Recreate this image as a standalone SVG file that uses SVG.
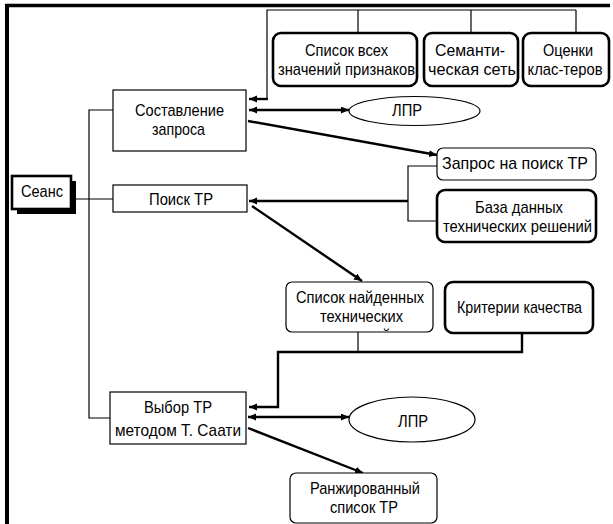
<svg xmlns="http://www.w3.org/2000/svg" width="613" height="524" viewBox="0 0 613 524">
  <style>
    text { font-family: "Liberation Sans", Arial, sans-serif; font-size: 17px; fill: #000; text-anchor: middle; }
    .box { fill: #fff; stroke: #000; stroke-width: 1.2; }
    .bold { fill: #fff; stroke: #000; stroke-width: 2.6; }
    .thin { fill: none; stroke: #000; stroke-width: 1.2; }
    .thick { fill: none; stroke: #000; stroke-width: 2.4; }
    .frame { fill: none; stroke: #000; }
  </style>
  <defs>
    <marker id="arrow" markerUnits="userSpaceOnUse" markerWidth="9" markerHeight="8" refX="8" refY="3.5" orient="auto-start-reverse">
      <path d="M0,0 L8,3.5 L0,7 z" fill="#000"/>
    </marker>
    <clipPath id="clip-found">
      <rect x="286" y="282" width="147" height="50" rx="6"/>
    </clipPath>
  </defs>

  <!-- page frame (top and left edges) -->
  <g id="frame">
    <line class="frame" x1="5" y1="5.5" x2="610" y2="5.5" stroke-width="3.5"/>
    <line class="frame" x1="7" y1="4" x2="7" y2="524" stroke-width="4"/>
  </g>

  <!-- connectors -->
  <g id="connectors">
    <!-- tree from the session node -->
    <path class="thin" d="M113,110 H89 V418 H110"/>
    <line class="thin" x1="76" y1="199" x2="113" y2="199"/>
    <!-- knowledge sources bus -->
    <path class="thin" d="M576,10 H267 V99"/>
    <line class="thin" x1="358" y1="10" x2="358" y2="33"/>
    <line class="thin" x1="471" y1="10" x2="471" y2="33"/>
    <line class="thin" x1="576" y1="10" x2="576" y2="33"/>
    <path class="thick" d="M268,99 H249" marker-end="url(#arrow)"/>
    <!-- query composition -->
    <line class="thick" x1="249" y1="110" x2="349" y2="110" marker-start="url(#arrow)" marker-end="url(#arrow)"/>
    <line class="thick" x1="248" y1="121" x2="437" y2="155" marker-end="url(#arrow)"/>
    <!-- search inputs -->
    <path class="thin" d="M437,166 H408 V221 H437"/>
    <path class="thick" d="M408,201 H249" marker-end="url(#arrow)"/>
    <line class="thick" x1="252" y1="206" x2="362" y2="281" marker-end="url(#arrow)"/>
    <!-- selection inputs -->
    <line class="thin" x1="358" y1="332" x2="358" y2="352"/>
    <path class="thick" d="M522,333 V352 H278 V407 H249" marker-end="url(#arrow)"/>
    <line class="thick" x1="248" y1="417" x2="349" y2="417" marker-start="url(#arrow)" marker-end="url(#arrow)"/>
    <line class="thick" x1="248" y1="428" x2="363" y2="473" marker-end="url(#arrow)"/>
  </g>

  <g id="session">
    <rect x="17" y="181" width="59" height="33" fill="#000"/>
    <rect class="bold" x="12" y="176" width="59" height="33"/>
    <text x="42" y="197" textLength="42" lengthAdjust="spacingAndGlyphs">Сеанс</text>
  </g>

  <g id="compose">
    <rect class="box" x="113" y="90" width="133" height="61"/>
    <text x="179.5" y="116" textLength="89" lengthAdjust="spacingAndGlyphs">Составление</text>
    <text x="178.5" y="135" textLength="53" lengthAdjust="spacingAndGlyphs">запроса</text>
  </g>

  <g id="search">
    <rect class="box" x="113" y="185" width="134" height="27"/>
    <text x="181" y="205" textLength="64" lengthAdjust="spacingAndGlyphs">Поиск ТР</text>
  </g>

  <g id="select">
    <rect class="box" x="110" y="392" width="136" height="52"/>
    <text x="178" y="413" textLength="68" lengthAdjust="spacingAndGlyphs">Выбор ТР</text>
    <text x="178" y="436" textLength="126" lengthAdjust="spacingAndGlyphs">методом Т. Саати</text>
  </g>

  <g id="attr-values">
    <rect class="bold" x="273" y="33" width="144" height="53" rx="8"/>
    <text x="346.5" y="56" textLength="83" lengthAdjust="spacingAndGlyphs">Список всех</text>
    <text x="346.5" y="75" textLength="137" lengthAdjust="spacingAndGlyphs">значений признаков</text>
  </g>

  <g id="semantic-net">
    <rect class="bold" x="424" y="33" width="94" height="53" rx="8"/>
    <text x="470" y="56" textLength="70" lengthAdjust="spacingAndGlyphs">Семанти-</text>
    <text x="472" y="75" textLength="88" lengthAdjust="spacingAndGlyphs">ческая сеть</text>
  </g>

  <g id="cluster-scores">
    <rect class="bold" x="523" y="33" width="86" height="53" rx="8"/>
    <text x="568" y="56" textLength="50" lengthAdjust="spacingAndGlyphs">Оценки</text>
    <text x="565" y="75" textLength="75" lengthAdjust="spacingAndGlyphs">клас-теров</text>
  </g>

  <g id="dm-1">
    <ellipse class="box" cx="414.5" cy="111" rx="65.5" ry="14.5"/>
    <text x="407" y="116" textLength="30" lengthAdjust="spacingAndGlyphs">ЛПР</text>
  </g>

  <g id="query">
    <rect class="box" x="437" y="148" width="159" height="32" rx="6"/>
    <text x="515" y="169" textLength="146" lengthAdjust="spacingAndGlyphs">Запрос на поиск ТР</text>
  </g>

  <g id="database">
    <rect class="bold" x="437" y="190" width="159" height="52" rx="8"/>
    <text x="519" y="213" textLength="88" lengthAdjust="spacingAndGlyphs">База данных</text>
    <text x="517.5" y="232" textLength="149" lengthAdjust="spacingAndGlyphs">технических решений</text>
  </g>

  <g id="found-list">
    <rect class="box" x="286" y="282" width="147" height="50" rx="6"/>
    <text x="360" y="303" textLength="128" lengthAdjust="spacingAndGlyphs">Список найденных</text>
    <text x="361.5" y="322" textLength="83" lengthAdjust="spacingAndGlyphs">технических</text>
    <text x="360" y="341" textLength="61" lengthAdjust="spacingAndGlyphs" clip-path="url(#clip-found)">решений</text>
  </g>

  <g id="criteria">
    <rect class="bold" x="445" y="282" width="148" height="51" rx="8"/>
    <text x="519.5" y="313" textLength="125" lengthAdjust="spacingAndGlyphs">Критерии качества</text>
  </g>

  <g id="dm-2">
    <ellipse class="box" cx="412" cy="419.5" rx="63" ry="22.5"/>
    <text x="413" y="427" textLength="30" lengthAdjust="spacingAndGlyphs">ЛПР</text>
  </g>

  <g id="ranked">
    <rect class="box" x="290" y="473" width="147" height="50" rx="6"/>
    <text x="365" y="494" textLength="110" lengthAdjust="spacingAndGlyphs">Ранжированный</text>
    <text x="364" y="513" textLength="68" lengthAdjust="spacingAndGlyphs">список ТР</text>
  </g>
</svg>
